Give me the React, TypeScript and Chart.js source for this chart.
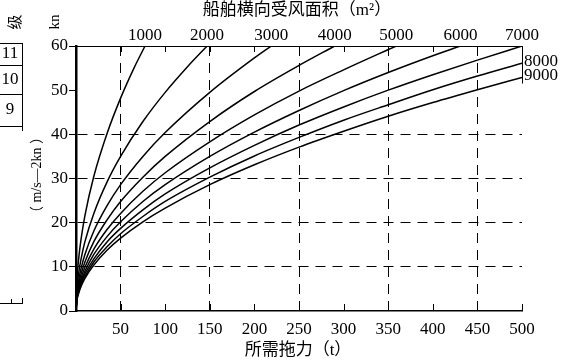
import React, { useEffect, useRef } from "react";
import { Chart, registerables } from "chart.js";

Chart.register(...registerables);

const SERIF = '"Liberation Serif", "Noto Sans CJK SC", serif';

const topTitle = "船舶横向受风面积（m²）";
const xTitle = "所需拖力（t）";
const unitText = "（ m/s—2kn ）";
const beaufortLabels = ["11", "10", "9"];

const areaLabels = ["1000", "2000", "3000", "4000", "5000", "6000", "7000", "8000", "9000"];

const force1000 = [0, 1, 3, 6, 10, 20, 35, 50, 65, 77.4];
const speed1000 = [0, 6.8, 11.8, 16.7, 21.6, 30.5, 40.3, 48.2, 55.0, 60];
const force2000 = [0, 1, 3, 6, 10, 20, 35, 50, 75, 100, 125, 147];
const speed2000 = [0, 4.9, 8.6, 12.1, 15.7, 22.1, 29.3, 35.0, 42.9, 49.5, 55.3, 60];
const force3000 = [0, 1, 3, 6, 10, 20, 35, 50, 75, 100, 150, 200, 219];
const speed3000 = [0, 4.0, 7.0, 9.9, 12.8, 18.1, 23.9, 28.6, 35.0, 40.4, 49.5, 57.3, 60];
const force4000 = [0, 1, 3, 6, 10, 20, 35, 50, 75, 100, 150, 200, 250, 290];
const speed4000 = [0, 3.5, 6.1, 8.6, 11.1, 15.7, 20.7, 24.8, 30.3, 35.0, 42.9, 49.7, 55.6, 60];
const force5000 = [0, 1, 3, 6, 10, 20, 35, 50, 75, 100, 150, 200, 250, 300, 359];
const speed5000 = [0, 3.1, 5.4, 7.7, 9.9, 14.0, 18.5, 22.1, 27.1, 31.3, 38.3, 44.4, 49.8, 54.6, 60];
const force6000 = [0, 1, 3, 6, 10, 20, 35, 50, 75, 100, 150, 200, 250, 300, 350, 400, 431];
const speed6000 = [0, 2.9, 5.0, 7.0, 9.0, 12.8, 16.9, 20.2, 24.8, 28.6, 35.0, 40.5, 45.4, 49.9, 54.0, 57.8, 60];
const force7000 = [0, 1, 3, 6, 10, 20, 35, 50, 75, 100, 150, 200, 250, 300, 350, 400, 450, 500];
const speed7000 = [0, 2.6, 4.6, 6.5, 8.4, 11.8, 15.7, 18.7, 22.9, 26.5, 32.4, 37.5, 42.1, 46.2, 50.0, 53.5, 56.8, 60];
const force8000 = [0, 1, 3, 6, 10, 20, 35, 50, 75, 100, 150, 200, 250, 300, 350, 400, 450, 500];
const speed8000 = [0, 2.5, 4.3, 6.1, 7.8, 11.1, 14.6, 17.5, 21.4, 24.8, 30.3, 35.1, 39.3, 43.2, 46.7, 50.1, 53.2, 56.1];
const force9000 = [0, 1, 3, 6, 10, 20, 35, 50, 75, 100, 150, 200, 250, 300, 350, 400, 450, 500];
const speed9000 = [0, 2.3, 4.0, 5.7, 7.4, 10.4, 13.8, 16.5, 20.2, 23.3, 28.6, 33.1, 37.1, 40.7, 44.1, 47.2, 50.1, 52.9];

const forces = [force1000, force2000, force3000, force4000, force5000, force6000, force7000, force8000, force9000];
const speeds = [speed1000, speed2000, speed3000, speed4000, speed5000, speed6000, speed7000, speed8000, speed9000];

const decorPlugin = {
  id: "decor",
  afterDraw(chart: any) {
    const { ctx, chartArea: a, scales } = chart;
    const x = scales.x;
    const y = scales.y;
    ctx.save();
    ctx.strokeStyle = "#000";
    ctx.fillStyle = "#000";
    ctx.lineWidth = 1;
    // top border
    ctx.beginPath();
    ctx.moveTo(a.left, Math.round(a.top) + 0.5);
    ctx.lineTo(a.right, Math.round(a.top) + 0.5);
    ctx.stroke();
    // partial right border
    ctx.beginPath();
    ctx.moveTo(Math.round(a.right) + 0.5, a.top);
    ctx.lineTo(Math.round(a.right) + 0.5, y.getPixelForValue(51.5));
    ctx.stroke();
    // inner ticks top & bottom
    x.ticks.forEach((t: any) => {
      if (t.value === 0) return;
      const px = Math.round(x.getPixelForValue(t.value)) + 0.5;
      ctx.beginPath();
      ctx.moveTo(px, a.bottom);
      ctx.lineTo(px, a.bottom - 7);
      ctx.moveTo(px, a.top);
      ctx.lineTo(px, a.top + 6);
      ctx.stroke();
    });
    // curve labels
    ctx.font = `17px ${SERIF}`;
    chart.data.datasets.forEach((ds: any, i: number) => {
      const meta = chart.getDatasetMeta(i);
      const last = meta.data[meta.data.length - 1];
      const lastY = ds.data[ds.data.length - 1].y;
      if (lastY >= 60) {
        ctx.textAlign = "center";
        ctx.textBaseline = "middle";
        ctx.fillText(areaLabels[i], last.x, a.top - 10);
      } else {
        ctx.textAlign = "left";
        ctx.textBaseline = "middle";
        ctx.fillText(areaLabels[i], a.right + 2, last.y - 2);
      }
    });
    // titles
    ctx.textAlign = "center";
    ctx.textBaseline = "middle";
    ctx.fillText(topTitle, 297, 11);
    ctx.fillText(xTitle, (a.left + a.right) / 2 - 1, 351);
    // kn label rotated
    ctx.save();
    ctx.translate(55, 22);
    ctx.rotate(-Math.PI / 2);
    ctx.font = `15px ${SERIF}`;
    ctx.fillText("kn", 0, 0);
    ctx.restore();
    // Beaufort remnant
    ctx.save();
    ctx.translate(16, 22);
    ctx.rotate(-Math.PI / 2);
    ctx.font = `15px ${SERIF}`;
    ctx.fillText("级", 0, 0);
    ctx.restore();
    ctx.lineWidth = 1;
    ctx.beginPath();
    [43, 65, 94, 126].forEach((yy) => {
      ctx.moveTo(0, yy + 0.5);
      ctx.lineTo(22, yy + 0.5);
    });
    ctx.moveTo(22.5, 43);
    ctx.lineTo(22.5, 131);
    // bottom remnant
    ctx.moveTo(0, 303.5);
    ctx.lineTo(22, 303.5);
    ctx.moveTo(22.5, 298);
    ctx.lineTo(22.5, 304);
    ctx.moveTo(11.5, 299);
    ctx.lineTo(11.5, 303);
    ctx.stroke();
    ctx.font = `17px ${SERIF}`;
    const rowCenters = [54, 80, 110];
    beaufortLabels.forEach((lbl, i) => {
      ctx.fillText(lbl, 10, rowCenters[i]);
    });
    // rotated unit text
    ctx.save();
    ctx.translate(37, 175);
    ctx.rotate(-Math.PI / 2);
    ctx.font = `14px ${SERIF}`;
    ctx.fillText(unitText, 0, 0);
    ctx.restore();
    ctx.restore();
  },
};

export default function App() {
  const ref = useRef<HTMLCanvasElement | null>(null);
  useEffect(() => {
    if (!ref.current) return;
    const chart = new Chart(ref.current, {
      type: "line",
      data: {
        datasets: forces.map((f, i) => ({
          label: areaLabels[i],
          data: f.map((xv, j) => ({ x: xv, y: speeds[i][j] })),
          borderColor: "#000",
          borderWidth: 1.5,
          pointRadius: 0,
          fill: false,
          cubicInterpolationMode: "monotone" as const,
        })),
      },
      options: {
        responsive: false,
        animation: false,
        devicePixelRatio: 1,
        layout: { padding: { top: 46, right: 39, left: 0, bottom: 0 } },
        plugins: { legend: { display: false }, tooltip: { enabled: false } },
        scales: {
          x: {
            type: "linear",
            min: 0,
            max: 500,
            afterFit: (s: any) => {
              s.height = 49;
            },
            ticks: {
              stepSize: 50,
              color: "#000",
              font: { family: SERIF, size: 17 },
              padding: 8,
              maxRotation: 0,
              callback: (v: any) => (v === 0 ? "" : String(v)),
            },
            grid: {
              color: (c: any) => (c.tick && c.tick.value % 100 === 50 ? "#000" : "rgba(0,0,0,0)"),
              lineWidth: 1,
              drawTicks: false,
            },
            border: { display: true, color: "#000", width: 1.5, dash: [10, 7] },
          },
          y: {
            type: "linear",
            min: 0,
            max: 60,
            afterFit: (s: any) => {
              s.width = 76;
            },
            ticks: {
              stepSize: 10,
              color: "#000",
              font: { family: SERIF, size: 17 },
              padding: 1,
            },
            grid: {
              color: (c: any) =>
                c.tick && c.tick.value >= 10 && c.tick.value <= 40 ? "#000" : "rgba(0,0,0,0)",
              tickColor: "#000",
              tickLength: 7,
              lineWidth: 1,
              tickWidth: 1,
            },
            border: { display: true, color: "#000", width: 2.5, dash: [10, 7] },
          },
        },
      },
      plugins: [decorPlugin],
    });
    return () => chart.destroy();
  }, []);
  return (
    <div style={{ position: "absolute", left: 0, top: 0, width: 561, height: 360, background: "#fff" }}>
      <canvas ref={ref} width={561} height={360} style={{ display: "block" }} />
    </div>
  );
}
